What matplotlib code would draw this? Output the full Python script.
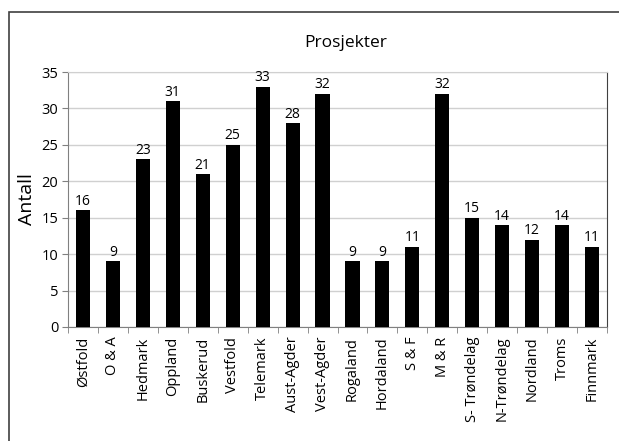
import matplotlib
matplotlib.use("Agg")
import matplotlib.pyplot as plt
from matplotlib.patches import Rectangle
import numpy as np

categories = ["Østfold", "O & A", "Hedmark", "Oppland", "Buskerud", "Vestfold",
              "Telemark", "Aust-Agder", "Vest-Agder", "Rogaland", "Hordaland",
              "S & F", "M & R", "S- Trøndelag", "N-Trøndelag", "Nordland",
              "Troms", "Finnmark"]
values = [16, 9, 23, 31, 21, 25, 33, 28, 32, 9, 9, 11, 32, 15, 14, 12, 14, 11]
yticks = [0, 5, 10, 15, 20, 25, 30, 35]

plt.rcParams['font.family'] = ['Open Sans', 'DejaVu Sans']

fig = plt.figure(figsize=(6.19, 4.41), dpi=100)
W, H = 619, 441
ax = fig.add_axes([68 / W, 1 - 327 / H, (607 - 68) / W, (327 - 72) / H])

x = np.arange(len(categories))
ax.bar(x, values, width=0.47, color="black", zorder=3)
for xi, v in zip(x, values):
    ax.text(xi, v + 0.2, str(v), ha="center", va="bottom", fontsize=10, zorder=4)

ax.set_xlim(-0.5, len(categories) - 0.5)
ax.set_ylim(0, 35)
ax.set_yticks(yticks)
ax.tick_params(axis="y", labelsize=10.5, length=4, color="#808080", pad=3)
ax.yaxis.grid(True, color="#d0d0d0", linewidth=1, zorder=0)

ax.set_xticks(x)
ax.set_xticklabels(categories, rotation=90, fontsize=10.5)
ax.tick_params(axis="x", length=0, pad=7)
ax.set_xticks(np.arange(-0.5, len(categories), 1), minor=True)
ax.tick_params(axis="x", which="minor", length=4, color="#808080")

for s in ["left", "bottom"]:
    ax.spines[s].set_color("#808080")
ax.spines["top"].set_color("#d0d0d0")
ax.spines["right"].set_color("#404040")

ax.set_ylabel("Antall", fontsize=14, labelpad=4)
fig.text(346 / W, 1 - 43 / H, "Prosjekter", ha="center", va="center", fontsize=12.5)

fig.patches.append(Rectangle((9 / W, -0.1), 1.2, 1 - 12 / H + 0.1, transform=fig.transFigure,
                             fill=False, edgecolor="#404040", linewidth=1.2))

fig.savefig("out.png", dpi=100)
